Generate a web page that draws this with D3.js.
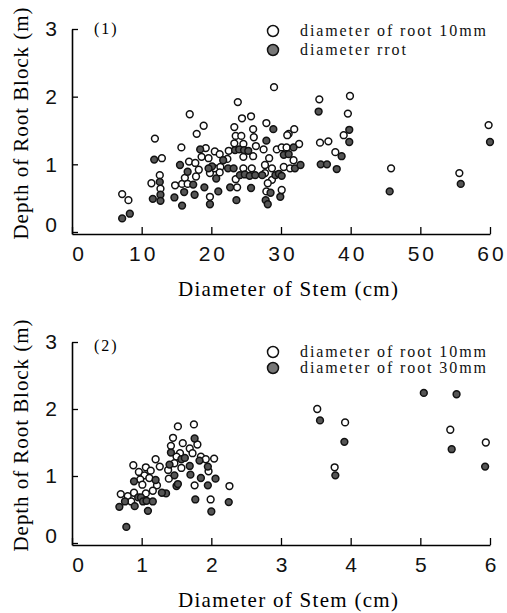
<!DOCTYPE html>
<html>
<head>
<meta charset="utf-8">
<script src="https://cdn.jsdelivr.net/npm/d3@7"></script>
<style>
  body { margin: 0; background: #fff; }
  svg { display: block; }
</style>
</head>
<body>
<svg id="chart" width="507" height="613"></svg>
<script>
// tick values
const stemTicks1 = [0, 10, 20, 30, 40, 50, 60];
const stemTicks2 = [0, 1, 2, 3, 4, 5, 6];
const depthTicks = [0, 1, 2, 3];

// panel (1): [diameter of stem (cm), depth of root block (m)]
const panel1Root10 = [
  [7.2,0.56],[8.1,0.47],[11.9,1.38],[12.9,1.09],[12.6,0.84],[11.4,0.72],[12.7,0.64],
  [15.7,1.25],[16.9,1.74],[17.9,1.45],[18.9,1.57],[14.8,0.69],[15.8,0.71],[16.2,0.80],
  [16.6,0.71],[16.8,1.04],[17.7,1.02],[17.8,0.82],[18.2,0.92],[19.2,1.24],[18.6,1.11],
  [19.6,1.09],[19.8,0.52],[20.5,1.19],[19.8,0.87],[20.5,0.94],[21.2,1.15],[21.3,0.96],
  [21.2,0.88],[22.3,1.08],[22.5,1.20],[23.3,1.55],[23.8,1.92],[23.5,1.42],[24.3,1.42],
  [24.4,1.68],[25.7,1.71],[26.0,1.52],[26.1,1.40],[23.3,1.31],[24.6,1.30],[26.4,1.27],
  [24.6,1.11],[26.0,1.12],[24.6,0.94],[25.8,0.94],[23.5,0.78],[23.7,0.66],[27.9,1.61],
  [29.0,2.14],[27.5,1.22],[28.3,1.09],[27.7,0.99],[28.7,0.94],[29.4,1.22],[30.1,1.25],
  [31.1,1.45],[31.9,1.52],[32.6,1.30],[30.8,1.25],[31.8,1.06],[27.7,0.87],[28.7,0.77],
  [30.4,0.96],[31.3,0.94],[30.1,0.62],[27.9,0.60],[28.1,0.72],[30.9,1.43],[35.6,1.32],
  [35.5,1.96],[36.8,1.34],[37.8,1.18],[39.0,1.43],[39.6,1.75],[39.9,2.01],[45.8,0.94],
  [55.6,0.87],[59.8,1.58]
];
const panel1Rrot = [
  [7.2,0.20],[8.3,0.27],[11.8,1.07],[12.6,0.74],[12.7,0.55],[11.6,0.49],[12.7,0.46],
  [15.5,0.99],[14.7,0.51],[15.8,0.39],[16.1,0.59],[16.6,0.89],[17.6,0.55],[17.4,0.70],
  [18.4,1.22],[19.0,0.66],[19.8,0.41],[20.1,0.97],[19.6,0.94],[20.7,0.79],[21.0,0.60],
  [21.7,1.06],[23.4,1.21],[24.0,1.22],[24.7,1.21],[25.3,1.20],[22.4,0.94],[23.2,0.94],
  [24.1,0.84],[24.8,0.85],[25.5,0.83],[26.3,0.84],[22.7,0.66],[25.7,0.65],[23.6,0.47],
  [28.9,1.52],[27.9,1.35],[30.4,1.14],[31.1,1.15],[31.8,1.25],[29.2,0.84],[29.7,0.86],
  [30.1,0.83],[27.3,0.84],[28.5,0.58],[29.9,0.52],[27.8,0.47],[28.1,0.41],[32.0,0.94],
  [32.8,0.99],[35.4,1.78],[35.7,1.00],[36.6,1.00],[38.7,1.12],[38.0,0.93],[39.8,1.51],
  [39.8,1.33],[45.6,0.60],[55.8,0.71],[60.0,1.33]
];

// panel (2)
const panel2Root10 = [
  [1.52,1.74],[1.75,1.77],[1.45,1.57],[1.59,1.49],[1.80,1.47],[1.42,1.45],[1.69,1.41],
  [1.73,1.34],[1.55,1.34],[1.50,1.29],[1.85,1.29],[1.92,1.25],[2.04,1.26],[1.47,1.19],
  [1.57,1.12],[1.96,1.07],[1.38,1.09],[1.39,0.96],[1.76,0.86],[1.26,1.14],[1.20,1.25],
  [0.88,1.16],[0.96,1.06],[1.06,1.13],[1.13,1.08],[1.04,1.01],[0.98,0.95],[1.11,0.97],
  [1.01,0.87],[1.22,0.86],[1.16,0.78],[0.70,0.73],[0.80,0.70],[0.89,0.75],[1.06,0.74],
  [0.85,0.62],[1.99,0.65],[2.26,0.85],[3.52,2.00],[3.92,1.80],[3.77,1.13],[5.43,1.69],
  [5.94,1.50]
];
const panel2Root30 = [
  [1.76,1.56],[1.42,1.35],[1.57,1.25],[1.62,1.27],[1.83,1.23],[1.40,1.17],[1.69,1.15],
  [1.95,1.14],[1.47,1.01],[1.70,1.02],[1.85,0.97],[2.06,0.96],[1.50,0.85],[1.52,0.88],
  [1.95,0.86],[1.35,0.74],[1.29,0.75],[0.89,0.92],[1.20,0.94],[0.95,0.68],[0.99,0.68],
  [0.76,0.62],[1.02,0.62],[1.07,0.63],[1.16,0.62],[0.68,0.54],[0.90,0.55],[1.09,0.48],
  [0.78,0.24],[1.77,0.65],[2.00,0.47],[2.25,0.61],[3.56,1.83],[3.91,1.51],[3.78,1.01],
  [5.05,2.24],[5.52,2.22],[5.45,1.40],[5.93,1.14]
];

const svg = d3.select("#chart");
svg.append("rect").attr("width", 507).attr("height", 613).attr("fill", "#fff");

const serif = "'Liberation Serif', 'DejaVu Serif', serif";
const sans = "'Liberation Sans', Arial, sans-serif";

function drawPanel(p) {
  const x = d3.scaleLinear().domain([0, p.xMax]).range([72, 490]);
  const y = d3.scaleLinear().domain([-0.03, 3]).range([p.bottom, p.top]);
  const g = svg.append("g");

  // x axis, ticks pointing inward
  const xa = g.append("g")
    .attr("transform", `translate(0,${p.bottom})`)
    .call(d3.axisBottom(x).tickValues(p.xTicks).tickFormat(d3.format("d"))
      .tickSizeInner(-7).tickSizeOuter(0).tickPadding(12));
  xa.select(".domain").attr("stroke-width", 1.6);
  xa.selectAll(".tick line").attr("stroke-width", 1.3);
  xa.selectAll(".tick text")
    .attr("font-family", sans).attr("font-size", 21)
    .attr("letter-spacing", 3).attr("dx", d => d === 0 ? 7 : 1.5)
    .attr("fill", "#111");

  // y axis
  const ya = g.append("g")
    .attr("transform", "translate(72,0)")
    .call(d3.axisLeft(y).tickValues(depthTicks).tickFormat(d3.format("d"))
      .tickSizeInner(-6).tickSizeOuter(0).tickPadding(15));
  ya.select(".domain").attr("stroke-width", 1.6);
  ya.selectAll(".tick line").attr("stroke-width", 1.3);
  ya.selectAll(".tick text")
    .attr("font-family", sans).attr("font-size", 21).attr("fill", "#111")
    .attr("y", d => d === 0 ? -7 : 0);

  // axis titles
  g.append("text")
    .attr("x", 288).attr("y", p.bottom + 62)
    .attr("text-anchor", "middle")
    .attr("font-family", serif).attr("font-size", 21)
    .attr("textLength", 220).attr("lengthAdjust", "spacing")
    .text("Diameter of Stem (cm)");

  g.append("text")
    .attr("transform", `translate(28,${(p.top + p.bottom) / 2 - 8}) rotate(-90)`)
    .attr("text-anchor", "middle")
    .attr("font-family", serif).attr("font-size", 21)
    .attr("textLength", 232).attr("lengthAdjust", "spacing")
    .text("Depth of Root Block (m)");

  // panel label
  g.append("text")
    .attr("x", 94).attr("y", y(3) + p.labelDy)
    .attr("font-family", serif).attr("font-size", 16).attr("letter-spacing", 2)
    .text(p.label);

  // points
  g.append("g").selectAll("circle")
    .data(p.open).join("circle")
    .attr("cx", d => x(d[0])).attr("cy", d => y(d[1]))
    .attr("r", 3.4).attr("fill", "#fff")
    .attr("stroke", "#111").attr("stroke-width", 1.5);

  g.append("g").selectAll("circle")
    .data(p.filled).join("circle")
    .attr("cx", d => x(d[0])).attr("cy", d => y(d[1]))
    .attr("r", 3.4).attr("fill", "#555")
    .attr("stroke", "#111").attr("stroke-width", 1.5);

  // legend
  const leg = g.append("g");
  p.legend.forEach((item, i) => {
    const ly = p.legendY[i];
    leg.append("circle")
      .attr("cx", 273).attr("cy", ly).attr("r", 5.5)
      .attr("fill", item.filled ? "#777" : "#fff")
      .attr("stroke", "#111").attr("stroke-width", 1.5);
    leg.append("text")
      .attr("x", 300).attr("y", ly + 5)
      .attr("font-family", serif).attr("font-size", 16).attr("letter-spacing", 1.9)
      .attr("fill", "#111")
      .text(item.name);
  });
}

drawPanel({
  xMax: 60, xTicks: stemTicks1, top: 29, bottom: 234, label: "(1)", labelDy: 5,
  open: panel1Root10, filled: panel1Rrot,
  legend: [{ name: "diameter of root 10mm", filled: false }, { name: "diameter rrot", filled: true }],
  legendY: [31, 50]
});

drawPanel({
  xMax: 6, xTicks: stemTicks2, top: 342, bottom: 545, label: "(2)", labelDy: 9,
  open: panel2Root10, filled: panel2Root30,
  legend: [{ name: "diameter of root 10mm", filled: false }, { name: "diameter of root 30mm", filled: true }],
  legendY: [352, 368]
});
</script>
</body>
</html>
